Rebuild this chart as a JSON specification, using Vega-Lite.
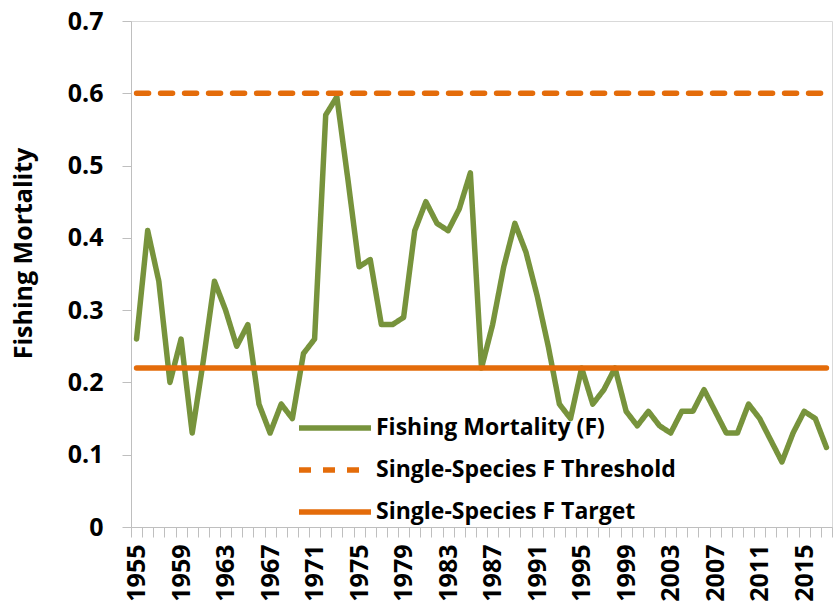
{
  "$schema": "https://vega.github.io/schema/vega-lite/v6.json",
  "width": 701,
  "height": 506,
  "autosize": {"type": "none"},
  "padding": {"left": 131, "top": 21, "right": 1, "bottom": 81},
  "background": "white",
  "config": {
    "view": {"stroke": "#d9d9d9", "strokeWidth": 1},
    "font": "Open Sans"
  },
  "datasets": {
    "f": [
      {"year": 1955, "value": 0.26, "series": "Fishing Mortality (F)"},
      {"year": 1956, "value": 0.41, "series": "Fishing Mortality (F)"},
      {"year": 1957, "value": 0.34, "series": "Fishing Mortality (F)"},
      {"year": 1958, "value": 0.20, "series": "Fishing Mortality (F)"},
      {"year": 1959, "value": 0.26, "series": "Fishing Mortality (F)"},
      {"year": 1960, "value": 0.13, "series": "Fishing Mortality (F)"},
      {"year": 1961, "value": 0.23, "series": "Fishing Mortality (F)"},
      {"year": 1962, "value": 0.34, "series": "Fishing Mortality (F)"},
      {"year": 1963, "value": 0.30, "series": "Fishing Mortality (F)"},
      {"year": 1964, "value": 0.25, "series": "Fishing Mortality (F)"},
      {"year": 1965, "value": 0.28, "series": "Fishing Mortality (F)"},
      {"year": 1966, "value": 0.17, "series": "Fishing Mortality (F)"},
      {"year": 1967, "value": 0.13, "series": "Fishing Mortality (F)"},
      {"year": 1968, "value": 0.17, "series": "Fishing Mortality (F)"},
      {"year": 1969, "value": 0.15, "series": "Fishing Mortality (F)"},
      {"year": 1970, "value": 0.24, "series": "Fishing Mortality (F)"},
      {"year": 1971, "value": 0.26, "series": "Fishing Mortality (F)"},
      {"year": 1972, "value": 0.57, "series": "Fishing Mortality (F)"},
      {"year": 1973, "value": 0.595, "series": "Fishing Mortality (F)"},
      {"year": 1974, "value": 0.48, "series": "Fishing Mortality (F)"},
      {"year": 1975, "value": 0.36, "series": "Fishing Mortality (F)"},
      {"year": 1976, "value": 0.37, "series": "Fishing Mortality (F)"},
      {"year": 1977, "value": 0.28, "series": "Fishing Mortality (F)"},
      {"year": 1978, "value": 0.28, "series": "Fishing Mortality (F)"},
      {"year": 1979, "value": 0.29, "series": "Fishing Mortality (F)"},
      {"year": 1980, "value": 0.41, "series": "Fishing Mortality (F)"},
      {"year": 1981, "value": 0.45, "series": "Fishing Mortality (F)"},
      {"year": 1982, "value": 0.42, "series": "Fishing Mortality (F)"},
      {"year": 1983, "value": 0.41, "series": "Fishing Mortality (F)"},
      {"year": 1984, "value": 0.44, "series": "Fishing Mortality (F)"},
      {"year": 1985, "value": 0.49, "series": "Fishing Mortality (F)"},
      {"year": 1986, "value": 0.22, "series": "Fishing Mortality (F)"},
      {"year": 1987, "value": 0.28, "series": "Fishing Mortality (F)"},
      {"year": 1988, "value": 0.36, "series": "Fishing Mortality (F)"},
      {"year": 1989, "value": 0.42, "series": "Fishing Mortality (F)"},
      {"year": 1990, "value": 0.38, "series": "Fishing Mortality (F)"},
      {"year": 1991, "value": 0.32, "series": "Fishing Mortality (F)"},
      {"year": 1992, "value": 0.25, "series": "Fishing Mortality (F)"},
      {"year": 1993, "value": 0.17, "series": "Fishing Mortality (F)"},
      {"year": 1994, "value": 0.15, "series": "Fishing Mortality (F)"},
      {"year": 1995, "value": 0.22, "series": "Fishing Mortality (F)"},
      {"year": 1996, "value": 0.17, "series": "Fishing Mortality (F)"},
      {"year": 1997, "value": 0.19, "series": "Fishing Mortality (F)"},
      {"year": 1998, "value": 0.22, "series": "Fishing Mortality (F)"},
      {"year": 1999, "value": 0.16, "series": "Fishing Mortality (F)"},
      {"year": 2000, "value": 0.14, "series": "Fishing Mortality (F)"},
      {"year": 2001, "value": 0.16, "series": "Fishing Mortality (F)"},
      {"year": 2002, "value": 0.14, "series": "Fishing Mortality (F)"},
      {"year": 2003, "value": 0.13, "series": "Fishing Mortality (F)"},
      {"year": 2004, "value": 0.16, "series": "Fishing Mortality (F)"},
      {"year": 2005, "value": 0.16, "series": "Fishing Mortality (F)"},
      {"year": 2006, "value": 0.19, "series": "Fishing Mortality (F)"},
      {"year": 2007, "value": 0.16, "series": "Fishing Mortality (F)"},
      {"year": 2008, "value": 0.13, "series": "Fishing Mortality (F)"},
      {"year": 2009, "value": 0.13, "series": "Fishing Mortality (F)"},
      {"year": 2010, "value": 0.17, "series": "Fishing Mortality (F)"},
      {"year": 2011, "value": 0.15, "series": "Fishing Mortality (F)"},
      {"year": 2012, "value": 0.12, "series": "Fishing Mortality (F)"},
      {"year": 2013, "value": 0.09, "series": "Fishing Mortality (F)"},
      {"year": 2014, "value": 0.13, "series": "Fishing Mortality (F)"},
      {"year": 2015, "value": 0.16, "series": "Fishing Mortality (F)"},
      {"year": 2016, "value": 0.15, "series": "Fishing Mortality (F)"},
      {"year": 2017, "value": 0.11, "series": "Fishing Mortality (F)"}
    ],
    "ref": [
      {"year": 1955, "value": 0.6, "series": "Single-Species F Threshold"},
      {"year": 2017, "value": 0.6, "series": "Single-Species F Threshold"},
      {"year": 1955, "value": 0.22, "series": "Single-Species F Target"},
      {"year": 2017, "value": 0.22, "series": "Single-Species F Target"}
    ]
  },
  "encoding": {
    "x": {
      "field": "year",
      "type": "quantitative",
      "scale": {"domain": [1954.5, 2017.5], "nice": false, "zero": false},
      "axis": {
        "title": null,
        "values": [1954.5,1955.5,1956.5,1957.5,1958.5,1959.5,1960.5,1961.5,1962.5,1963.5,1964.5,1965.5,1966.5,1967.5,1968.5,1969.5,1970.5,1971.5,1972.5,1973.5,1974.5,1975.5,1976.5,1977.5,1978.5,1979.5,1980.5,1981.5,1982.5,1983.5,1984.5,1985.5,1986.5,1987.5,1988.5,1989.5,1990.5,1991.5,1992.5,1993.5,1994.5,1995.5,1996.5,1997.5,1998.5,1999.5,2000.5,2001.5,2002.5,2003.5,2004.5,2005.5,2006.5,2007.5,2008.5,2009.5,2010.5,2011.5,2012.5,2013.5,2014.5,2015.5,2016.5,2017.5],
        "labelExpr": "(datum.value + 0.5 - 1955) % 4 == 0 ? format(datum.value + 0.5, 'd') : ''",
        "labelOffset": 5.56,
        "labelAngle": 270,
        "labelOverlap": false,
        "labelFontSize": 25,
        "labelFontWeight": "bold",
        "labelColor": "black",
        "labelPadding": 7,
        "tickSize": 10,
        "tickColor": "#bfbfbf",
        "domainColor": "#bfbfbf",
        "grid": false,
        "labelBound": false,
        "labelFlush": false
      }
    },
    "y": {
      "field": "value",
      "type": "quantitative",
      "scale": {"domain": [0, 0.7], "nice": false, "zero": true},
      "axis": {
        "title": "Fishing Mortality",
        "titleFontSize": 25,
        "titleFontWeight": "bold",
        "titleColor": "black",
        "titleAngle": 270,
        "titleX": -120,
        "titleY": 232,
        "titleAlign": "center",
        "titleBaseline": "top",
        "values": [0, 0.1, 0.2, 0.3, 0.4, 0.5, 0.6, 0.7],
        "format": ".1~f",
        "labelFontSize": 25,
        "labelFontWeight": "bold",
        "labelColor": "black",
        "labelPadding": 19,
        "tickSize": 9,
        "tickColor": "#bfbfbf",
        "domainColor": "#bfbfbf",
        "grid": false
      }
    },
    "color": {
      "field": "series",
      "type": "nominal",
      "scale": {
        "domain": ["Fishing Mortality (F)", "Single-Species F Threshold", "Single-Species F Target"],
        "range": ["#77933C", "#E46C0A", "#E46C0A"]
      },
      "legend": {
        "title": null,
        "orient": "none",
        "legendX": 189,
        "legendY": 392,
        "symbolType": "M-3,0H3",
        "symbolSize": 576,
        "symbolStrokeWidth": 5.5,
        "labelFontSize": 23,
        "labelFontWeight": "bold",
        "labelColor": "black",
        "labelOffset": 26,
        "labelLimit": 500,
        "rowPadding": 15,
        "padding": 0
      }
    },
    "strokeDash": {
      "field": "series",
      "type": "nominal",
      "scale": {
        "domain": ["Fishing Mortality (F)", "Single-Species F Threshold", "Single-Species F Target"],
        "range": [[1, 0], [12, 12], [1, 0]]
      },
      "legend": {
        "title": null,
        "orient": "none",
        "legendX": 189,
        "legendY": 392,
        "symbolType": "M-3,0H3",
        "symbolSize": 576,
        "symbolStrokeWidth": 5.5,
        "labelFontSize": 23,
        "labelFontWeight": "bold",
        "labelColor": "black",
        "labelOffset": 26,
        "labelLimit": 500,
        "rowPadding": 15,
        "padding": 0
      }
    }
  },
  "layer": [
    {
      "data": {"name": "f"},
      "mark": {"type": "line", "strokeWidth": 5.5, "strokeCap": "round", "strokeJoin": "round"}
    },
    {
      "data": {"name": "ref"},
      "mark": {"type": "line", "strokeWidth": 5.5, "strokeCap": "round", "strokeJoin": "round"}
    }
  ]
}
